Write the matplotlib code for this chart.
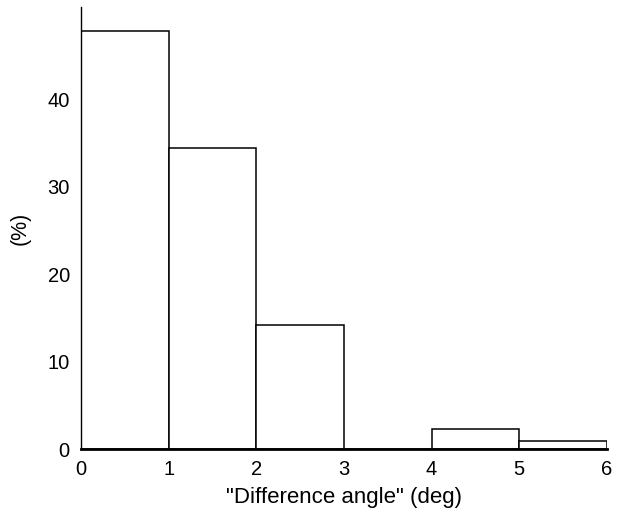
import matplotlib
matplotlib.use("Agg")
import matplotlib.pyplot as plt

bin_left = [0, 1, 2, 3, 4, 5]
percent = [47.8, 34.4, 14.2, 0.0, 2.3, 0.9]
x_ticks = [0, 1, 2, 3, 4, 5, 6]
y_ticks = [0, 10, 20, 30, 40]

plt.rcParams['font.family'] = ['Liberation Sans', 'DejaVu Sans']

fig = plt.figure(figsize=(6.18, 5.12), dpi=100)
ax = fig.add_axes([0.131, 0.123, 0.851, 0.863])
ax.bar(bin_left, percent, width=1.0, align='edge', color='white',
       edgecolor='black', linewidth=1.1)
ax.set_xlim(0, 6.0)
ax.set_ylim(0, 50.5)
ax.set_xticks(x_ticks)
ax.set_yticks(y_ticks)
ax.tick_params(length=0, labelsize=14.5, pad=8)
for s in ['top', 'right']:
    ax.spines[s].set_visible(False)
ax.spines['left'].set_linewidth(1.0)
ax.spines['bottom'].set_linewidth(2.0)
ax.set_xlabel('"Difference angle" (deg)', fontsize=16, labelpad=6)
ax.set_ylabel('(%)', fontsize=15.5, labelpad=12)
fig.savefig('out.png', dpi=100)
